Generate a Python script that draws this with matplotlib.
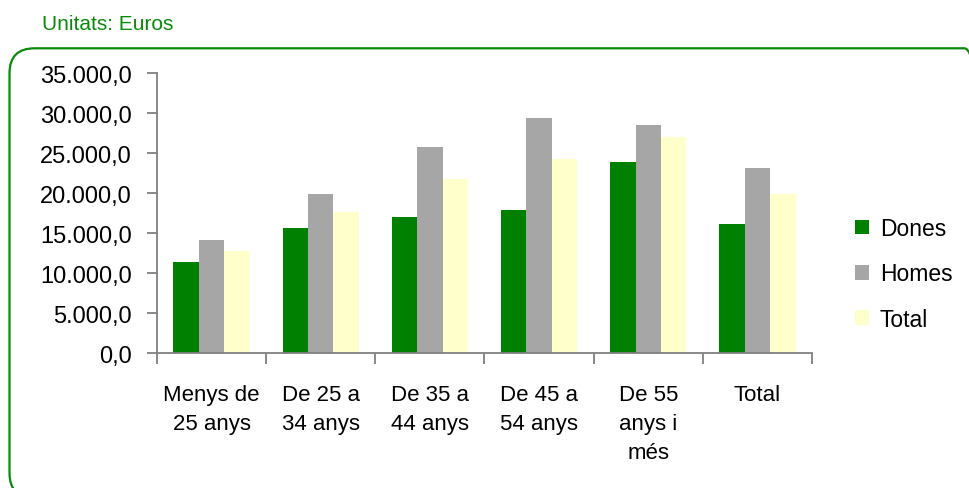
import matplotlib
matplotlib.use("Agg")
import matplotlib.pyplot as plt
from matplotlib.patches import FancyBboxPatch
from matplotlib.ticker import FuncFormatter, FixedLocator
import numpy as np

categories = ["Menys de\n25 anys", "De 25 a\n34 anys", "De 35 a\n44 anys",
              "De 45 a\n54 anys", "De 55\nanys i\nmés", "Total"]
dones = [11430, 15600, 17000, 17900, 23900, 16100]
homes = [14200, 19900, 25700, 29400, 28500, 23200]
total = [12800, 17600, 21800, 24300, 27050, 19950]
series = [("Dones", dones, "#008000"),
          ("Homes", homes, "#a6a6a6"),
          ("Total", total, "#ffffcc")]
yticks = [0, 5000, 10000, 15000, 20000, 25000, 30000, 35000]

GREEN = "#0a8a0a"
plt.rcParams["font.family"] = ["Liberation Sans", "DejaVu Sans"]

W, H = 970, 489
fig = plt.figure(figsize=(W / 100, H / 100), dpi=100)
ax = fig.add_axes([157 / W, 1 - 354.3 / H, (812 - 157) / W, (354.3 - 74) / H])

x = np.arange(len(categories))
bw = 0.233
for i, (name, vals, col) in enumerate(series):
    ax.bar(x + (i - 1) * bw, vals, bw, color=col, label=name, zorder=2)

ax.set_xlim(-0.5, len(categories) - 0.5)
ax.set_ylim(0, 35000)
ax.set_yticks(yticks)
ax.yaxis.set_major_formatter(FuncFormatter(
    lambda v, p: f"{v:,.1f}".replace(",", "X").replace(".", ",").replace("X", ".")))
ax.set_xticks(x)
ax.set_xticklabels(categories, fontsize=16, linespacing=1.5, va="top")
ax.xaxis.set_minor_locator(FixedLocator(np.arange(-0.5, len(categories), 1.0)))
ax.tick_params(axis="x", which="major", length=0, pad=22)
ax.tick_params(axis="x", which="minor", length=8, width=1.3, color="#808080")
ax.tick_params(axis="y", length=7, width=1.3, color="#808080", labelsize=17, pad=11)

for s in ("top", "right"):
    ax.spines[s].set_visible(False)
for s in ("left", "bottom"):
    ax.spines[s].set_color("#808080")
    ax.spines[s].set_linewidth(1.3)

fig.legend(loc="upper left", bbox_to_anchor=(855 / W, 1 - 218 / H),
           bbox_transform=fig.transFigure, frameon=False, fontsize=16.5,
           borderpad=0, borderaxespad=0, handlelength=0.61, handleheight=0.61,
           handletextpad=0.48, labelspacing=0.98)

fig.text(42 / W, 1 - 30 / H, "Unitats: Euros", color=GREEN, fontsize=15,
         va="baseline", ha="left")

box = FancyBboxPatch((9.5, -10), 980, 449.7,
                     boxstyle="round,pad=0,rounding_size=25",
                     transform=None, fill=False, edgecolor=GREEN, linewidth=1.6)
fig.add_artist(box)

fig.savefig("out.png", dpi=100)
